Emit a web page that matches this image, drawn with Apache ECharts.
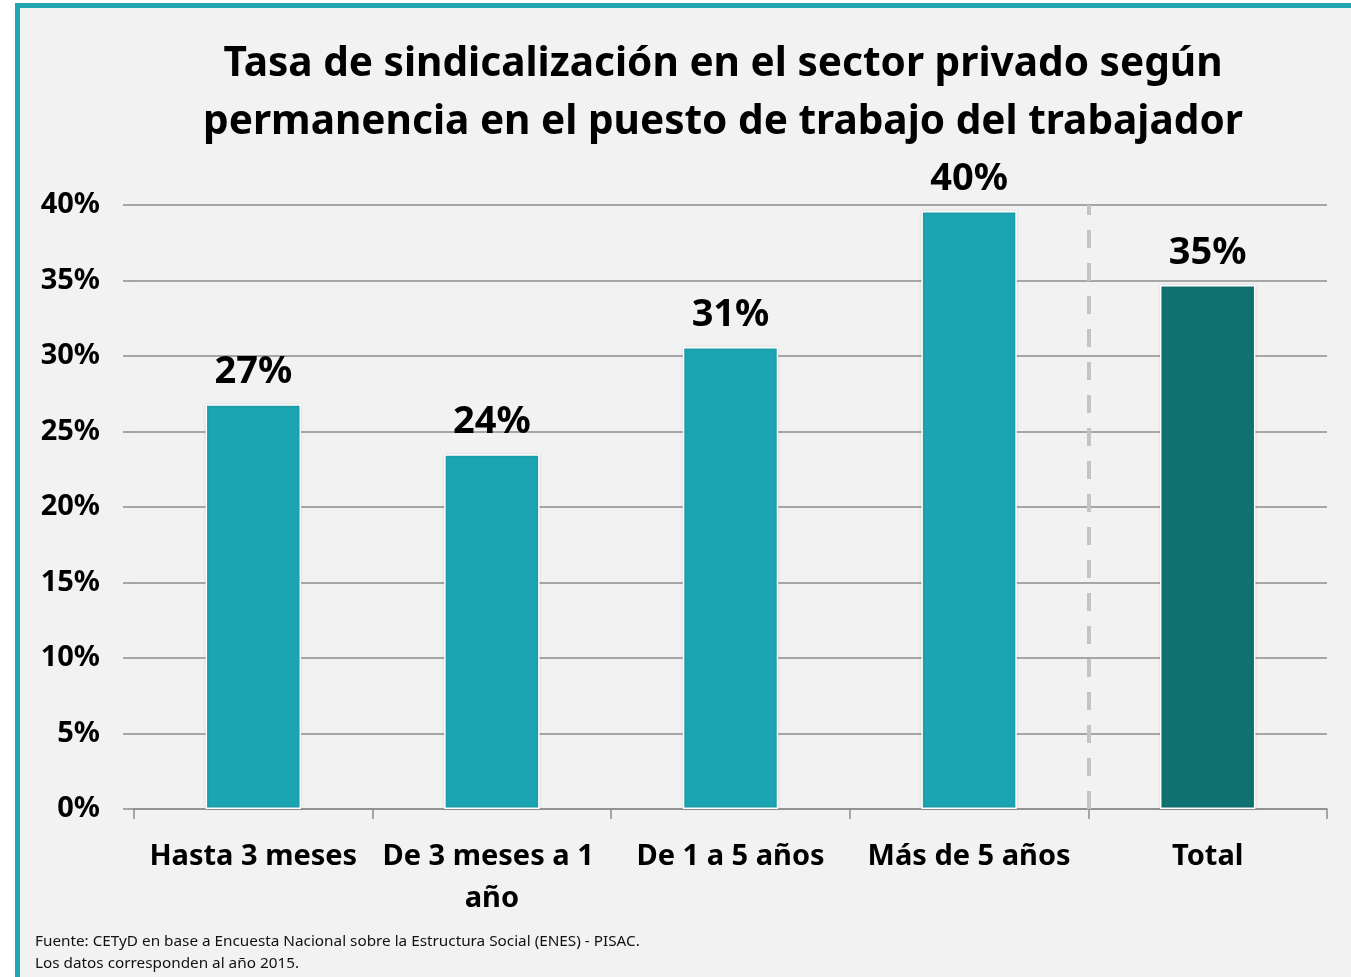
<!DOCTYPE html>
<html>
<head>
<meta charset="utf-8">
<script src="https://cdn.jsdelivr.net/npm/echarts@6/dist/echarts.min.js"></script>
<style>
  html, body { margin: 0; padding: 0; background: #ffffff; width: 1351px; height: 977px; overflow: hidden; }
  #frame { position: absolute; left: 15px; top: 3px; width: 1331px; height: 969px; border-left: 5px solid #20a7b3; border-top: 5px solid #20a7b3; background: #f2f2f2; }
  #chart { position: absolute; left: 0; top: 0; width: 1351px; height: 977px; }
</style>
</head>
<body>
<div id="frame"></div>
<div id="chart"></div>
<script>
const titleLines = ['Tasa de sindicalización en el sector privado según', 'permanencia en el puesto de trabajo del trabajador'];
const categories = ['Hasta 3 meses', 'De 3 meses a 1 año', 'De 1 a 5 años', 'Más de 5 años', 'Total'];
const values = [26.8, 23.5, 30.6, 39.6, 34.7];
const yTicks = { min: 0, max: 40, interval: 5 };
const separatorAt = 4; // boundary between 'Más de 5 años' and 'Total'
const sourceLines = ['Fuente: CETyD en base a Encuesta Nacional sobre la Estructura Social (ENES) - PISAC.', 'Los datos corresponden al año 2015.'];

const baseColor = '#1ba4b1';
const totalColor = '#107171';
const font = '"Noto Sans", "Open Sans", sans-serif';

const chart = echarts.init(document.getElementById('chart'), null, { renderer: 'canvas' });
chart.setOption({
  backgroundColor: 'transparent',
  animation: false,
  textStyle: { fontFamily: font },
  grid: { left: 134, right: 24, top: 205, bottom: 168, containLabel: false },
  graphic: [
    { type: 'text', x: 723, y: 35, z: 10,
      style: { text: titleLines.join('\n'), font: 'bold 40.6px ' + font, fill: '#000', textAlign: 'center', textVerticalAlign: 'top', lineHeight: 58 } },
    { type: 'text', x: 35, y: 931,
      style: { text: sourceLines.join('\n'), font: '15.3px ' + font, fill: '#111', lineHeight: 22 } }
  ],
  xAxis: [
    { type: 'category', data: categories, gridIndex: 0,
      axisLine: { lineStyle: { color: '#8c8c8c', width: 1.5 } },
      axisTick: { show: true, length: 10, lineStyle: { color: '#8c8c8c', width: 1.5 } },
      axisLabel: { color: '#000', fontSize: 29, fontWeight: 'bold', fontFamily: font, margin: 27,
                   width: 228, overflow: 'break', lineHeight: 42, interval: 0 },
      splitLine: { show: false } },
    { type: 'value', min: 0, max: categories.length, show: false, gridIndex: 0 }
  ],
  yAxis: {
    type: 'value', min: yTicks.min, max: yTicks.max, interval: yTicks.interval,
    axisLine: { show: false },
    axisTick: { show: true, length: 11, lineStyle: { color: '#8c8c8c', width: 1.5 } },
    axisLabel: { color: '#000', fontSize: 29, fontWeight: 'bold', fontFamily: font, margin: 34, formatter: '{value}%' },
    splitLine: { show: true, lineStyle: { color: '#8c8c8c', width: 1.5 } }
  },
  series: [
    { type: 'bar', xAxisIndex: 0, yAxisIndex: 0, barWidth: '40%',
      data: values.map((v, i) => ({ value: v, itemStyle: { color: i === values.length - 1 ? totalColor : baseColor } })),
      itemStyle: { borderColor: '#ffffff', borderWidth: 1.5, shadowColor: 'rgba(0,0,0,0.15)', shadowBlur: 3 },
      label: { show: true, position: 'top', distance: 13, color: '#000', fontSize: 38, fontWeight: 'bold', fontFamily: font,
               formatter: p => Math.round(p.value) + '%' } },
    { type: 'scatter', xAxisIndex: 1, yAxisIndex: 0, data: [[separatorAt, 0]], symbolSize: 0, silent: true,
      markLine: { silent: true, symbol: 'none', label: { show: false },
                  lineStyle: { color: '#c4c4c4', width: 4, type: [18, 15] },
                  data: [{ xAxis: separatorAt }] } }
  ]
});
</script>
</body>
</html>
